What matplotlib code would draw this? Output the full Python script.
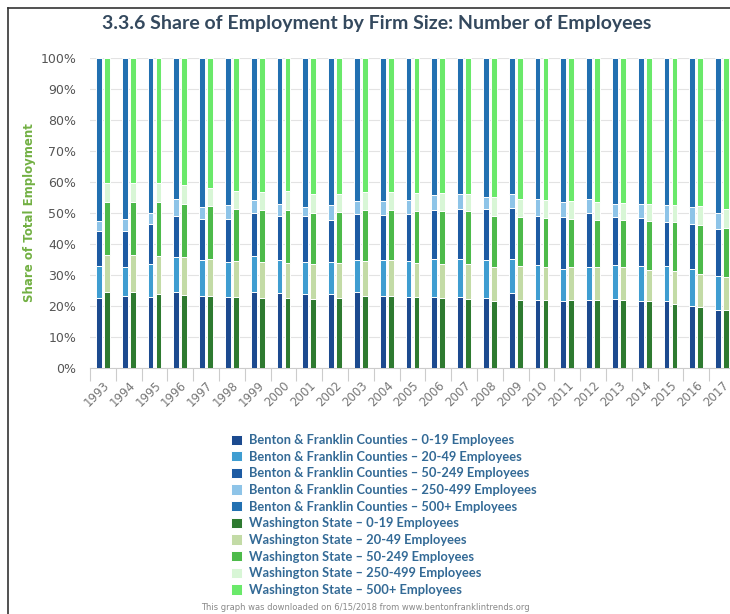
import matplotlib
matplotlib.use('Agg')
import matplotlib.pyplot as plt
from matplotlib.lines import Line2D
import numpy as np

years = [str(y) for y in range(1993, 2018)]
sizes = ['0-19', '20-49', '50-249', '250-499', '500+']

# Benton & Franklin Counties, share (%) per firm size
bf_0_19 = [22.6, 23.1, 22.8, 24.4, 23.1, 22.8, 24.4, 24.1, 23.9, 23.9, 24.4, 23.1, 22.8,
           22.9, 22.9, 22.6, 24.2, 22.0, 21.5, 21.8, 22.3, 21.5, 21.5, 19.9, 18.6]
bf_20_49 = [10.2, 9.4, 10.9, 11.3, 11.8, 11.3, 11.6, 10.8, 10.3, 10.3, 10.3, 11.6, 11.8,
            12.3, 12.4, 12.1, 11.0, 11.1, 10.5, 10.7, 11.0, 11.5, 11.3, 12.1, 11.0]
bf_50_249 = [11.3, 11.8, 12.8, 13.4, 13.2, 14.1, 14.0, 14.0, 14.7, 13.6, 15.0, 14.8, 15.1,
             15.9, 16.0, 16.6, 16.4, 16.0, 16.7, 17.5, 15.3, 15.4, 14.3, 14.5, 15.2]
bf_250_499 = [3.2, 3.9, 3.5, 5.4, 3.8, 4.5, 4.1, 4.1, 3.0, 4.9, 4.1, 4.3, 4.4,
              4.8, 4.8, 3.9, 4.5, 5.4, 4.8, 4.5, 4.4, 4.6, 5.6, 5.4, 5.2]
bf_500 = [52.7, 51.8, 50.0, 45.5, 48.1, 47.3, 45.9, 47.0, 48.1, 47.3, 46.2, 46.2, 45.9,
          44.1, 43.9, 44.8, 43.9, 45.5, 46.5, 45.5, 47.0, 47.0, 47.3, 48.1, 50.0]

# Washington State, share (%) per firm size
wa_0_19 = [24.4, 24.4, 23.9, 23.4, 23.1, 22.8, 22.6, 22.6, 22.4, 22.6, 23.1, 23.1, 22.8,
           22.6, 22.3, 21.5, 22.0, 22.0, 22.0, 22.0, 21.8, 21.5, 20.8, 19.6, 18.6]
wa_20_49 = [12.2, 12.2, 12.1, 12.3, 12.2, 11.8, 11.7, 11.3, 11.3, 11.3, 11.5, 11.6, 11.1,
            10.9, 11.2, 11.0, 10.8, 10.5, 10.5, 10.5, 10.7, 10.2, 10.4, 10.7, 10.8]
wa_50_249 = [16.9, 16.9, 17.5, 17.3, 16.9, 16.7, 16.8, 17.2, 16.3, 16.4, 16.3, 16.4, 16.6,
             17.0, 17.0, 16.4, 15.9, 15.9, 15.7, 15.3, 15.3, 15.6, 15.9, 15.7, 15.8]
wa_250_499 = [6.2, 6.2, 6.2, 6.1, 5.9, 5.9, 5.6, 5.9, 6.2, 5.8, 5.8, 5.6, 6.0,
              6.0, 5.6, 6.3, 5.9, 5.9, 5.6, 5.7, 5.4, 5.7, 5.6, 6.2, 6.1]
wa_500 = [40.3, 40.3, 40.3, 40.9, 41.9, 42.8, 43.3, 43.0, 43.8, 43.9, 43.3, 43.3, 43.5,
          43.5, 43.9, 44.8, 45.4, 45.7, 46.2, 46.5, 46.8, 47.0, 47.3, 47.8, 48.7]

bf_series = [bf_0_19, bf_20_49, bf_50_249, bf_250_499, bf_500]
wa_series = [wa_0_19, wa_20_49, wa_50_249, wa_250_499, wa_500]
bf_colors = ['#1c4a8f', '#3f9dd1', '#1d5ba3', '#8ec4e8', '#2270b1']
wa_colors = ['#2e7a30', '#c3dba6', '#4dba4a', '#d8f6d6', '#6ae96a']

fig = plt.figure(figsize=(7.3, 6.14), dpi=100)
ax = fig.add_axes([90 / 730, 246 / 614, 645 / 730, 310 / 614])

x = np.arange(len(years))
width = 0.22
offset = 0.155


def stack(series, colors, pos, name):
    bottom = np.zeros(len(years))
    handles = []
    for vals, col, size in zip(series, colors, sizes):
        vals = np.array(vals)
        b = ax.bar(pos, vals, width, bottom=bottom, color=col, edgecolor='white',
                   linewidth=0.7, label=f'{name} – {size} Employees', zorder=3)
        bottom += vals
        handles.append(b)
    return handles


h1 = stack(bf_series, bf_colors, x - offset, 'Benton & Franklin Counties')
h2 = stack(wa_series, wa_colors, x + offset, 'Washington State')

ax.set_xlim(-0.5, len(years) - 0.5)
ax.set_ylim(0, 100)
ax.set_yticks(np.arange(0, 101, 10))
ax.set_yticklabels([f'{v}%' for v in range(0, 101, 10)], fontsize=9, color='#555555')
ax.yaxis.grid(True, color='#e3e3e3', linewidth=0.8, zorder=0)
ax.tick_params(axis='y', length=0, pad=10)
ax.set_xticks(x)
ax.set_xticklabels(years, rotation=45, ha='right', rotation_mode='anchor',
                   fontsize=8.5, color='#777777')
ax.set_xticks(np.arange(-0.5, len(years), 1), minor=True)
ax.tick_params(axis='x', which='major', length=0, pad=8)
ax.tick_params(axis='x', which='minor', length=9, color='#cccccc', width=0.8)
for s in ['top', 'right', 'left']:
    ax.spines[s].set_visible(False)
ax.spines['bottom'].set_color('#cccccc')

fig.text(30 / 730, 1 - 213 / 614, 'Share of Total Employment', rotation=90,
         ha='center', va='center', fontsize=8.5, fontweight='bold', color='#72b043')

fig.text(377 / 730, 1 - 24 / 614, '3.3.6 Share of Employment by Firm Size: Number of Employees',
         ha='center', va='center', fontsize=14, fontweight='bold', color='#34495e',
         family='Lato')

handles = h1 + h2
labels = [h.get_label() for h in handles]
fig.legend(handles, labels, loc='upper left', bbox_to_anchor=(226 / 730, 1 - 429 / 614),
           frameon=False, handlelength=0.85, handleheight=0.85,
           handletextpad=0.55, labelspacing=0.36, borderaxespad=0,
           prop={'weight': 'bold', 'size': 9.3, 'family': 'Lato'}, labelcolor='#336a96')

fig.text(365 / 730, 1 - 607 / 614,
         'This graph was downloaded on 6/15/2018 from www.bentonfranklintrends.org',
         ha='center', va='center', fontsize=6, color='#888888')

# frame around the chart
fig.add_artist(Line2D([8 / 730, 8 / 730], [0, 1 - 8 / 614], color='#333333', linewidth=1.2))
fig.add_artist(Line2D([8 / 730, 1], [1 - 8 / 614, 1 - 8 / 614], color='#333333', linewidth=1.2))

fig.savefig('out.png', dpi=100)
